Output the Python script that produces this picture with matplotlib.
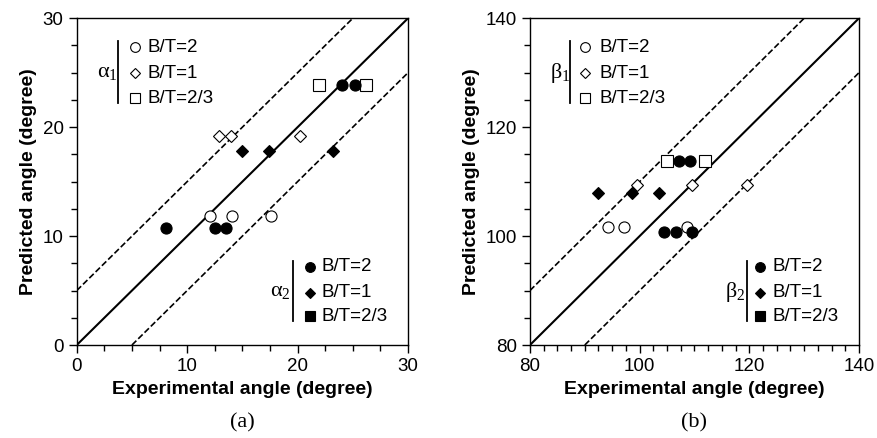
import matplotlib
matplotlib.use('agg')
import matplotlib.pyplot as plt
from matplotlib.ticker import MultipleLocator

plt.rcParams.update({"font.family": "Liberation Sans", "font.size": 12})

# (a) alpha angles
a1_bt2_x = [12.1, 14.1, 17.6]
a1_bt2_y = [11.8, 11.8, 11.8]
a1_bt1_x = [12.9, 14.0, 20.2]
a1_bt1_y = [19.2, 19.2, 19.2]
a1_bt23_x = [21.9, 26.2]
a1_bt23_y = [23.9, 23.9]
a2_bt2_x = [8.1, 12.5, 13.5, 24.0, 25.2]
a2_bt2_y = [10.7, 10.7, 10.7, 23.9, 23.9]
a2_bt1_x = [15.0, 17.4, 23.2]
a2_bt1_y = [17.8, 17.8, 17.8]

# (b) beta angles
b1_bt2_x = [94.2, 97.1, 108.6]
b1_bt2_y = [101.7, 101.7, 101.7]
b1_bt1_x = [99.5, 109.5, 119.6]
b1_bt1_y = [109.3, 109.3, 109.3]
b1_bt23_x = [105.0, 112.0]
b1_bt23_y = [113.8, 113.8]
b2_bt2_x = [107.1, 109.1, 104.4, 106.6, 109.5]
b2_bt2_y = [113.8, 113.8, 100.7, 100.7, 100.7]
b2_bt1_x = [92.5, 98.7, 103.6]
b2_bt1_y = [107.9, 107.9, 107.9]

labels = ["B/T=2", "B/T=1", "B/T=2/3"]
msz = {'o': 8, 'D': 6.5, 's': 8}


def legend_block(ax, sym, x0, y_rows, xl, xm, xt, filled):
    ax.text(x0, sum(y_rows) / 3, sym, transform=ax.transAxes, fontsize=16,
            family='Liberation Serif', ha='left', va='center')
    ax.plot([xl, xl], [y_rows[0] + 0.017, y_rows[2] - 0.014], color='k', lw=1.3,
            transform=ax.transAxes, clip_on=False)
    for m, yy, lab in zip(['o', 'D', 's'], y_rows, labels):
        ax.plot([xm], [yy], marker=m, ms=msz[m] - 1, color='k',
                mfc='k' if filled else 'white', mew=0.8, transform=ax.transAxes)
        ax.text(xt, yy, lab, transform=ax.transAxes, fontsize=13.5,
                ha='left', va='center')


def panel(ax, lo, hi, off, ystep, data):
    ax.plot([lo, hi], [lo, hi], color='k', lw=1.5)
    ax.plot([lo, hi - off], [lo + off, hi], 'k--', lw=1.2)
    ax.plot([lo + off, hi], [lo, hi - off], 'k--', lw=1.2)
    for x, y, m, filled in data:
        ax.plot(x, y, ls='none', marker=m, ms=msz[m], color='k',
                mfc='k' if filled else 'white', mew=0.8)
    ax.set_xlim(lo, hi)
    ax.set_ylim(lo, hi)
    ax.xaxis.set_major_locator(MultipleLocator(10 if hi - lo == 30 else 20))
    ax.yaxis.set_major_locator(MultipleLocator(10 if hi - lo == 30 else 20))
    ax.xaxis.set_minor_locator(MultipleLocator(2.5))
    ax.yaxis.set_minor_locator(MultipleLocator(ystep))
    ax.tick_params(which='both', direction='out', length=4, width=1, labelsize=13.5)
    ax.tick_params(which='major', length=6)
    for s in ax.spines.values():
        s.set_linewidth(1.0)
    ax.set_xlabel("Experimental angle (degree)", weight='bold', fontsize=14)
    ax.set_ylabel("Predicted angle (degree)", weight='bold', fontsize=14)


fig = plt.figure(figsize=(8.78, 4.38), dpi=100)
ax1 = fig.add_axes([0.0874, 0.2123, 0.3773, 0.746])
ax2 = fig.add_axes([0.6036, 0.2123, 0.3747, 0.746])

panel(ax1, 0, 30, 5, 2.5, [
    (a1_bt2_x, a1_bt2_y, 'o', False),
    (a1_bt1_x, a1_bt1_y, 'D', False),
    (a1_bt23_x, a1_bt23_y, 's', False),
    (a2_bt2_x, a2_bt2_y, 'o', True),
    (a2_bt1_x, a2_bt1_y, 'D', True),
])
panel(ax2, 80, 140, 10, 5, [
    (b1_bt2_x, b1_bt2_y, 'o', False),
    (b1_bt1_x, b1_bt1_y, 'D', False),
    (b1_bt23_x, b1_bt23_y, 's', False),
    (b2_bt2_x, b2_bt2_y, 'o', True),
    (b2_bt1_x, b2_bt1_y, 'D', True),
])

legend_block(ax1, r'$\mathregular{\alpha_1}$', 0.060, [0.912, 0.831, 0.755], 0.126, 0.176, 0.215, False)
legend_block(ax1, r'$\mathregular{\alpha_2}$', 0.582, [0.239, 0.160, 0.088], 0.654, 0.705, 0.740, True)
legend_block(ax2, r'$\mathregular{\beta_1}$', 0.060, [0.912, 0.831, 0.755], 0.121, 0.167, 0.210, False)
legend_block(ax2, r'$\mathregular{\beta_2}$', 0.594, [0.239, 0.160, 0.088], 0.660, 0.700, 0.737, True)

fig.text(0.276, 0.035, "(a)", ha='center', va='center', family='Liberation Serif', fontsize=16)
fig.text(0.790, 0.035, "(b)", ha='center', va='center', family='Liberation Serif', fontsize=16)

fig.savefig("out.png", dpi=100)
